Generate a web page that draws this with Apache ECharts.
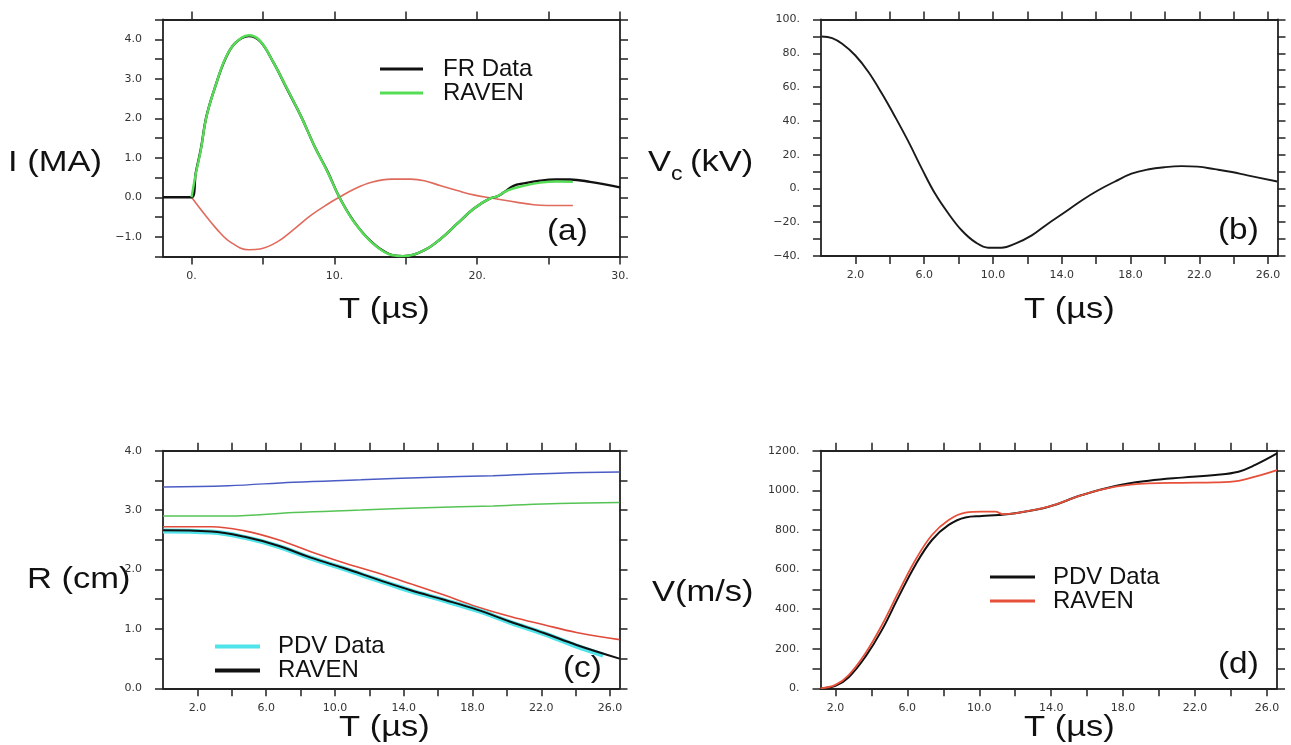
<!DOCTYPE html>
<html>
<head>
<meta charset="UTF-8">
<title>RAVEN vs data</title>
<script src="https://cdn.jsdelivr.net/npm/echarts@6.0.0/dist/echarts.min.js"></script>
<style>
html, body { margin: 0; padding: 0; background: #fff; }
#main { width: 1291px; height: 745px; }
</style>
</head>
<body>
<div id="main"></div>
<script>
// ---- (a) current I (MA) vs T (us) ----
var tFR = [-2, 0, 0.3, 0.65, 1.05, 1.75, 2.35, 3.05, 4.0, 4.8, 5.75, 6.7, 7.65, 8.6, 9.55, 10.35, 11.4, 12.6, 13.8, 14.8, 16.3, 17.45, 18.6, 19.75, 20.9, 21.4, 21.9, 22.55, 23.25, 24.4, 25.5, 26.5, 27.9, 30];
var iFR = [0, 0, 0.63, 1.22, 2.06, 2.9, 3.49, 3.9, 4.08, 3.95, 3.4, 2.73, 2.06, 1.3, 0.63, 0, -0.63, -1.13, -1.43, -1.49, -1.34, -1.05, -0.67, -0.29, -0.03, 0.02, 0.13, 0.29, 0.35, 0.42, 0.45, 0.45, 0.39, 0.25];
var tRavA = [0, 0.3, 0.65, 1.05, 1.75, 2.35, 3.05, 4.0, 4.8, 5.75, 6.7, 7.65, 8.6, 9.55, 10.35, 11.4, 12.6, 13.8, 14.8, 16.3, 17.45, 18.6, 19.75, 20.9, 21.4, 22.1, 23.25, 24.4, 25.6, 26.7];
var iRavA = [0, 0.6, 1.2, 2.05, 2.9, 3.5, 3.9, 4.1, 3.96, 3.4, 2.74, 2.06, 1.3, 0.62, 0, -0.64, -1.14, -1.44, -1.49, -1.34, -1.05, -0.67, -0.29, -0.03, 0.02, 0.17, 0.29, 0.37, 0.4, 0.39];
var tRedA = [0, 0.8, 1.75, 2.7, 4.0, 4.8, 6.0, 7.2, 8.35, 9.55, 10.35, 11.4, 12.6, 14.0, 15.35, 16.3, 17.45, 18.6, 19.75, 21.2, 22.8, 23.95, 24.9, 26.7];
var iRedA = [0, -0.38, -0.8, -1.13, -1.33, -1.31, -1.13, -0.8, -0.46, -0.17, 0, 0.21, 0.38, 0.46, 0.46, 0.42, 0.29, 0.17, 0.06, -0.03, -0.13, -0.19, -0.21, -0.21];

// ---- (b) capacitor voltage ----
var tVc = [0.03, 0.65, 1.23, 2.0, 2.77, 3.55, 4.32, 5.1, 5.87, 6.64, 7.42, 8.19, 8.97, 9.74, 10.5, 11.3, 12.26, 13.2, 14.2, 15.16, 16.1, 17.1, 18.06, 19.0, 20.0, 20.97, 21.9, 22.9, 23.9, 24.8, 26.54];
var vVc = [89.9, 89, 85.6, 78.7, 68.8, 56, 42.2, 27.4, 11.6, -3.2, -15, -24.9, -31.8, -35.1, -35.1, -32.7, -27.8, -20.9, -14, -7.1, -1.2, 4.1, 8.7, 11.2, 12.6, 13.2, 12.9, 11.4, 9.7, 7.7, 4.1];

// ---- (c) radius ----
var tLin = [0, 3.8, 7.6, 11.5, 15.3, 19.2, 23.0, 26.55];
var rBlue = [3.39, 3.41, 3.47, 3.51, 3.55, 3.58, 3.62, 3.64];
var rGreen = [2.90, 2.90, 2.96, 3.0, 3.04, 3.07, 3.11, 3.13];
var tR = [0, 2.8, 4.75, 6.7, 8.6, 10.55, 12.5, 14.4, 16.35, 18.3, 20.2, 22.15, 24.05, 26.55];
var rRed = [2.72, 2.72, 2.65, 2.50, 2.30, 2.11, 1.94, 1.76, 1.57, 1.37, 1.21, 1.07, 0.94, 0.82];
var rRavC = [2.66, 2.64, 2.55, 2.40, 2.20, 2.02, 1.83, 1.65, 1.49, 1.32, 1.12, 0.93, 0.73, 0.50];
var tPdvC = [0, 2.8, 4.75, 6.7, 8.6, 10.55, 12.5, 14.4, 16.35, 18.3, 20.2, 22.15, 24.05, 25.6];
var rPdvC = [2.65, 2.63, 2.54, 2.39, 2.19, 2.01, 1.82, 1.64, 1.48, 1.31, 1.11, 0.92, 0.71, 0.56];

// ---- (d) velocity ----
var tPdvD = [1.17, 2.0, 2.74, 3.67, 4.59, 5.52, 6.45, 7.37, 8.3, 9.23, 10.15, 11.08, 12.0, 13.86, 15.71, 17.57, 19.42, 21.27, 23.13, 24.42, 25.35, 26.56];
var vPdvD = [0, 12, 56, 160, 295, 463, 623, 749, 825, 863, 870, 875, 884, 917, 976, 1022, 1048, 1064, 1077, 1094, 1128, 1186];
var tRavD = [1.17, 2.0, 2.74, 3.67, 4.59, 5.52, 6.45, 7.37, 8.3, 9.23, 10.15, 10.9, 11.3, 12.0, 13.86, 15.71, 17.57, 19.42, 21.27, 23.13, 24.42, 25.35, 26.56];
var vRavD = [0, 17, 67, 177, 320, 488, 648, 774, 850, 887, 892, 892, 880, 884, 917, 976, 1018, 1035, 1038, 1040, 1048, 1069, 1102];

// tick positions and labelled values
var aXTicks = [0, 5, 10, 15, 20, 25, 30];
var aXLabels = [0, 10, 20, 30];
var aYTicks = [-1.5, -1, -0.5, 0, 0.5, 1, 1.5, 2, 2.5, 3, 3.5, 4, 4.5];
var aYLabels = [-1, 0, 1, 2, 3, 4];
var tTicks = [2, 4, 6, 8, 10, 12, 14, 16, 18, 20, 22, 24, 26];
var tLabels = [2, 6, 10, 14, 18, 22, 26];
var bYTicks = [-40, -30, -20, -10, 0, 10, 20, 30, 40, 50, 60, 70, 80, 90, 100];
var bYLabels = [-40, -20, 0, 20, 40, 60, 80, 100];
var cYTicks = [0, 0.5, 1, 1.5, 2, 2.5, 3, 3.5, 4];
var cYLabels = [0, 1, 2, 3, 4];
var dYTicks = [0, 100, 200, 300, 400, 500, 600, 700, 800, 900, 1000, 1100, 1200];
var dYLabels = [0, 200, 400, 600, 800, 1000, 1200];

function pairs(xs, ys) {
  var out = [];
  for (var i = 0; i < xs.length; i++) out.push([xs[i], ys[i]]);
  return out;
}
function dec1(v) { return (v < 0 ? '\u2212' : '') + Math.abs(v).toFixed(1); }
function dot(v) { return (v < 0 ? '\u2212' : '') + Math.abs(v) + '.'; }

var ink = '#222';
var labelFont = { color: '#333', fontSize: 11, fontFamily: 'DejaVu Sans' };

// bottom/left axis carries labels, top/right copy only closes the frame with ticks
function axisPair(dim, gi, min, max, ticks, labels, fmt) {
  var first = dim === 'x' ? 'bottom' : 'left';
  var second = dim === 'x' ? 'top' : 'right';
  var list = [];
  [first, second].forEach(function (pos, k) {
    var lab = { show: false };
    if (k === 0) {
      lab = Object.assign({ show: true, customValues: labels, formatter: fmt, margin: dim === 'x' ? 14 : 21 }, labelFont);
    }
    list.push({
      type: 'value', gridIndex: gi, position: pos, min: min, max: max,
      axisLine: { show: true, onZero: false, lineStyle: { color: ink, width: 1.8 } },
      axisTick: { show: true, length: 8, customValues: ticks, lineStyle: { color: ink, width: 1.5 } },
      axisLabel: lab,
      splitLine: { show: false }
    });
  });
  return list;
}

function line(name, gi, data, color, width, z, extra) {
  return {
    name: name, type: 'line', xAxisIndex: gi * 2, yAxisIndex: gi * 2,
    data: data, showSymbol: false, symbol: 'none', smooth: 0.4, z: z,
    itemStyle: { color: color },
    lineStyle: Object.assign({ color: color, width: width }, extra || {})
  };
}

function strip(name) { return name.split('#')[0]; }

var titleFont = '30px "Liberation Sans"';
function label(text, x, y, font) {
  return {
    type: 'text', x: x, y: y, scaleX: 1.15,
    style: { text: text, font: font || titleFont, fill: '#111', verticalAlign: 'middle' }
  };
}

var chart = echarts.init(document.getElementById('main'));

var option = {
  animation: false,
  backgroundColor: '#fff',
  grid: [
    { left: 163, top: 19.5, width: 457, height: 237, outerBoundsMode: 'none' },
    { left: 821, top: 19.5, width: 456.5, height: 236.5, outerBoundsMode: 'none' },
    { left: 163, top: 450.7, width: 456.5, height: 237.6, outerBoundsMode: 'none' },
    { left: 820.5, top: 450.7, width: 456.5, height: 237.6, outerBoundsMode: 'none' }
  ],
  xAxis: [].concat(
    axisPair('x', 0, -2, 30, aXTicks, aXLabels, dot),
    axisPair('x', 1, 0, 26.55, tTicks, tLabels, dec1),
    axisPair('x', 2, 0, 26.55, tTicks, tLabels, dec1),
    axisPair('x', 3, 1.17, 26.56, tTicks, tLabels, dec1)
  ),
  yAxis: [].concat(
    axisPair('y', 0, -1.5, 4.5, aYTicks, aYLabels, dec1),
    axisPair('y', 1, -40, 100, bYTicks, bYLabels, dot),
    axisPair('y', 2, 0, 4, cYTicks, cYLabels, dec1),
    axisPair('y', 3, 0, 1200, dYTicks, dYLabels, dot)
  ),
  legend: [
    {
      orient: 'vertical', left: 380, top: 57, padding: 0, itemGap: 0,
      itemWidth: 43, itemHeight: 3, icon: 'rect', selectedMode: false,
      data: ['FR Data#a', 'RAVEN#a'], formatter: strip,
      itemStyle: { borderWidth: 0 },
      textStyle: { fontSize: 24, fontFamily: 'Liberation Sans', color: '#111', lineHeight: 24, padding: [0, 0, 0, 15] }
    },
    {
      orient: 'vertical', left: 215, top: 634.5, padding: 0, itemGap: 0,
      itemWidth: 45, itemHeight: 4, icon: 'rect', selectedMode: false,
      data: ['PDV Data#c', 'RAVEN#c'], formatter: strip,
      itemStyle: { borderWidth: 0 },
      textStyle: { fontSize: 24, fontFamily: 'Liberation Sans', color: '#111', lineHeight: 23, padding: [0, 0, 0, 13] }
    },
    {
      orient: 'vertical', left: 990, top: 565, padding: 0, itemGap: 0,
      itemWidth: 45, itemHeight: 3, icon: 'rect', selectedMode: false,
      data: ['PDV Data#d', 'RAVEN#d'], formatter: strip,
      itemStyle: { borderWidth: 0 },
      textStyle: { fontSize: 24, fontFamily: 'Liberation Sans', color: '#111', lineHeight: 24, padding: [0, 0, 0, 13] }
    }
  ],
  series: [
    // (a) black data sits under the green fit, peeking out at the edges
    line('red trace#a', 0, pairs(tRedA, iRedA), '#e06a5c', 1.6, 2),
    line('FR Data#a', 0, pairs(tFR, iFR), '#111111', 2.4, 3),
    line('RAVEN#a', 0, pairs(tRavA, iRavA), '#55dd55', 2.4, 4),
    // (b)
    line('Vc#b', 1, pairs(tVc, vVc), '#1a1a1a', 1.9, 2),
    // (c)
    line('blue trace#c', 2, pairs(tLin, rBlue), '#4a5cc4', 1.5, 2),
    line('green trace#c', 2, pairs(tLin, rGreen), '#55c455', 1.5, 2),
    line('red trace#c', 2, pairs(tR, rRed), '#e04a3a', 1.6, 2),
    line('PDV Data#c', 2, pairs(tPdvC, rPdvC), '#4fe3ea', 5, 3),
    line('RAVEN#c', 2, pairs(tR, rRavC), '#111111', 2, 4),
    // (d)
    line('PDV Data#d', 3, pairs(tPdvD, vPdvD), '#111111', 2, 3),
    line('RAVEN#d', 3, pairs(tRavD, vRavD), '#e6503a', 1.8, 4)
  ],
  graphic: [
    label('I (MA)', 8, 163),
    label('T (\u00b5s)', 339, 310),
    label('V', 648, 163),
    label('c', 671, 174, '20px "Liberation Sans"'),
    label('(kV)', 690, 163),
    label('T (\u00b5s)', 1024, 310),
    label('R (cm)', 27, 580),
    label('T (\u00b5s)', 339, 728),
    label('V(m/s)', 652, 593),
    label('T (\u00b5s)', 1024, 728),
    label('(a)', 547, 232, '29px "Liberation Sans"'),
    label('(b)', 1218, 231, '29px "Liberation Sans"'),
    label('(c)', 563, 669, '29px "Liberation Sans"'),
    label('(d)', 1218, 665, '29px "Liberation Sans"')
  ]
};

chart.setOption(option);
</script>
</body>
</html>
